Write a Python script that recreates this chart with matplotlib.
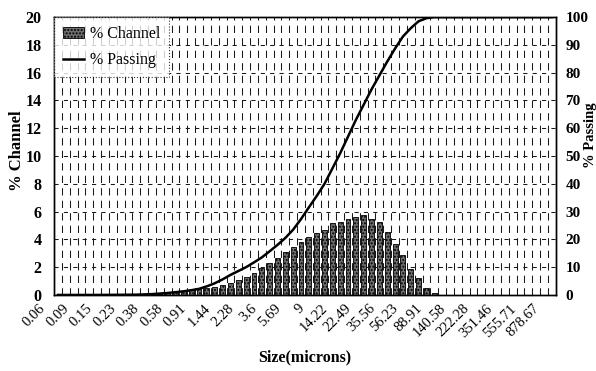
import numpy as np
import matplotlib
matplotlib.use("Agg")
import matplotlib.pyplot as plt
import matplotlib.transforms as mtransforms

# --- data ---
size_labels = ['0.06', '0.09', '0.15', '0.23', '0.38', '0.58', '0.91', '1.44',
               '2.28', '3.6', '5.69', '9', '14.22', '22.49', '35.56', '56.23',
               '88.91', '140.58', '222.28', '351.46', '555.71', '878.67']

# % in each channel, one value per size channel (64 channels)
pct_channel = [0, 0, 0, 0, 0, 0, 0, 0, 0, 0, 0, 0, 0,
               0.10, 0.15, 0.20, 0.25, 0.32, 0.40, 0.50, 0.60,
               0.72, 0.89, 1.08, 1.32, 1.60, 1.92, 2.28, 2.64, 3.12, 3.47,
               3.84, 4.15, 4.44, 4.68, 5.16, 5.27, 5.44, 5.59, 5.75, 5.50,
               5.27, 4.55, 3.70, 2.88, 1.90, 1.20, 0.50, 0.15,
               0, 0, 0, 0, 0, 0, 0, 0, 0, 0, 0, 0, 0, 0, 0]

# cumulative % passing, one value per channel
pct_passing = [0, 0, 0, 0, 0, 0, 0.02, 0.04, 0.06, 0.08,
               0.1, 0.2, 0.3, 0.5, 0.7, 1.0, 1.3, 1.7, 2.2, 3.1,
               4.2, 5.6, 7.2, 8.6, 10, 11.7, 13.5, 15.7, 18, 20.5,
               23.5, 27.3, 31.5, 35.6, 40, 45.5, 51, 57, 63, 68.5,
               74, 79, 84, 88.7, 93, 96, 98.5, 99.6, 100,
               100, 100, 100, 100, 100, 100, 100, 100, 100, 100,
               100, 100, 100, 100, 100]

plt.rcParams['font.family'] = ['Liberation Serif', 'DejaVu Serif']

n = len(pct_channel)
x = np.arange(n)

fig = plt.figure(figsize=(5.96, 3.71), dpi=100)
ax = fig.add_axes([0.0906, 0.205, 0.842, 0.749])
ax2 = ax.twinx()

# --- grid ---
for b in np.arange(0.5, n - 1, 1.0):
    ax.axvline(b, color='#1a1a1a', lw=0.75, ls=(0, (7, 5)), zorder=0)
for yv in range(2, 20, 2):
    ax.axhline(yv, color='#1a1a1a', lw=0.75, ls=(0, (4, 5)), zorder=0)

# --- bars and line ---
bars = ax.bar(x, pct_channel, width=0.62, color='#6f6f6f', edgecolor='black',
              hatch='.....', linewidth=0.6, zorder=2, label='% Channel')
line, = ax2.plot(x, pct_passing, color='black', lw=1.8, label='% Passing')

ax.set_xlim(-0.5, n - 0.5)
ax.set_ylim(0, 20)
ax2.set_ylim(0, 100)
ax.set_yticks(range(0, 21, 2))
ax2.set_yticks(range(0, 101, 10))

# category labels every third channel, drawn slightly left of the channel
label_pos = x[::3][:len(size_labels)]
ax.set_xticks(label_pos)
ax.set_xticklabels([])
ax.tick_params(axis='x', length=0)
shift = mtransforms.ScaledTranslation(-0.19, -0.07, fig.dpi_scale_trans)
trans = ax.get_xaxis_transform() + shift
for xp, lab in zip(label_pos, size_labels):
    ax.text(xp, 0, lab, transform=trans, rotation=45, ha='right', va='top',
            rotation_mode='anchor', fontsize=10.5)

ax.tick_params(axis='y', length=0, pad=9, labelsize=11.5)
ax2.tick_params(axis='y', length=0, pad=7, labelsize=11)
for t in ax.get_yticklabels() + ax2.get_yticklabels():
    t.set_fontweight('bold')

for sp in ['top', 'right', 'left', 'bottom']:
    ax.spines[sp].set_linewidth(1.0)
    ax2.spines[sp].set_linewidth(1.0)

ax.set_xlabel('Size(microns)', fontsize=11.5, fontweight='bold', labelpad=36)
ax.set_ylabel('% Channel', fontsize=12, fontweight='bold')
ax.yaxis.set_label_coords(-0.058, 0.52)
ax2.set_ylabel('% Passing', fontsize=10.5, fontweight='bold', rotation=90)
ax2.yaxis.set_label_coords(1.057, 0.575)

ax2.set_zorder(ax.get_zorder() + 1)
ax2.patch.set_visible(False)

leg = ax2.legend([bars, line], ['% Channel', '% Passing'], loc='upper left',
                 bbox_to_anchor=(0.0, 1.0), fontsize=11.5, frameon=True,
                 fancybox=False, handlelength=1.3, handletextpad=0.4,
                 borderpad=0.55, labelspacing=0.65, borderaxespad=0)
leg.get_frame().set_edgecolor('black')
leg.get_frame().set_linestyle(':')
leg.get_frame().set_linewidth(0.8)

plt.savefig('out.png', dpi=100)
